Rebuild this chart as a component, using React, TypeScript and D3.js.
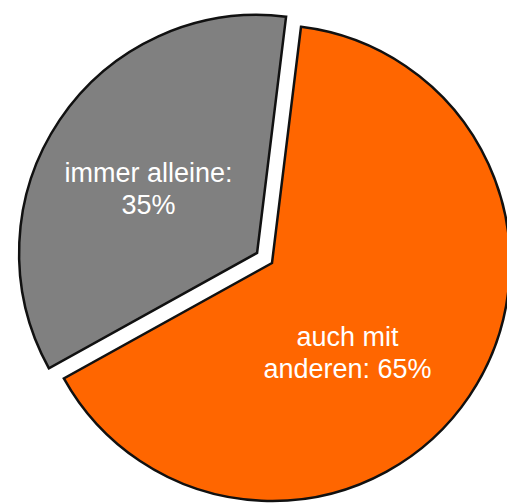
import React, { useRef, useEffect } from 'react';
import * as d3 from 'd3';

const labels = ['auch mit|anderen: 65%', 'immer alleine:|35%'];
const values = [65, 35];
const colors = ['#FF6600', '#808080'];

const App = () => {
    const svgRef = useRef<SVGSVGElement>(null);

    useEffect(() => {
        const svg = d3.select(svgRef.current);
        svg.selectAll('*').remove();

        const radius = 238;
        const cx = 272;
        const cy = 263;
        const explode = 18; // gray slice pulled out

        const data = values.map((v, i) => ({ value: v, label: labels[i], color: colors[i] }));

        const startOffset = (7 * Math.PI) / 180;
        const pie = d3.pie<any>()
            .value(d => d.value)
            .sort(null)
            .startAngle(startOffset)
            .endAngle(startOffset + 2 * Math.PI);

        const arc = d3.arc<any>().innerRadius(0).outerRadius(radius);
        const labelArc = d3.arc<any>().innerRadius(120).outerRadius(120);

        const g = svg.append('g').attr('transform', `translate(${cx}, ${cy})`);

        const slices = g.selectAll('g.slice')
            .data(pie(data))
            .join('g')
            .attr('class', 'slice')
            .attr('transform', (d, i) => {
                if (i === 0) return null;
                const mid = (d.startAngle + d.endAngle) / 2;
                return `translate(${Math.sin(mid) * explode}, ${-Math.cos(mid) * explode})`;
            });

        slices.append('path')
            .attr('d', arc)
            .attr('fill', d => d.data.color)
            .attr('stroke', '#111')
            .attr('stroke-width', 2.5)
            .attr('stroke-linejoin', 'miter');

        // label nudges (Excel places them a bit off the centroid)
        const nudge = [[-24, 24], [-9, 4]];

        slices.append('text')
            .attr('transform', (d, i) => {
                const [x, y] = labelArc.centroid(d);
                return `translate(${x + nudge[i][0]}, ${y + nudge[i][1]})`;
            })
            .attr('text-anchor', 'middle')
            .attr('fill', 'white')
            .attr('font-family', 'Liberation Sans, Arial, sans-serif')
            .attr('font-size', '27px')
            .selectAll('tspan')
            .data(d => d.data.label.split('|'))
            .join('tspan')
            .attr('x', 0)
            .attr('y', (t, j) => (j === 0 ? -8 : 24))
            .text(t => t);
    }, []);

    return (
        <svg
            ref={svgRef}
            width={507}
            height={504}
            style={{ position: 'absolute', left: 0, top: 0, background: 'white' }}
        />
    );
};

export default App;
